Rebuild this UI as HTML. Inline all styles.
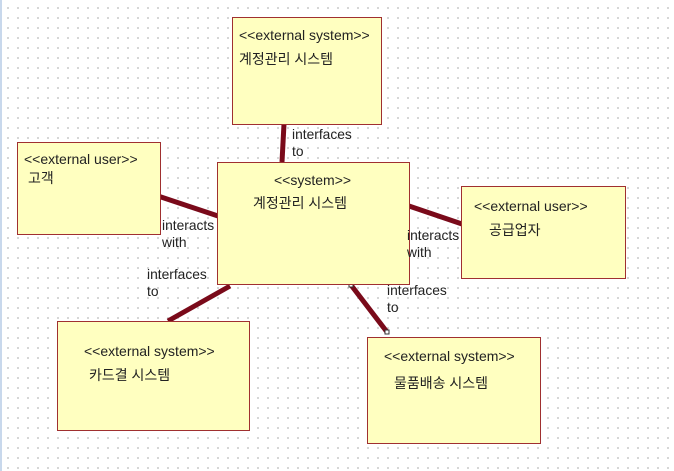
<!DOCTYPE html>
<html><head><meta charset="utf-8"><style>
body{margin:0;width:674px;height:471px;overflow:hidden;background:#fff;
background-image:radial-gradient(circle,#c8c8c8 0.8px,transparent 1px);background-size:10px 10px;background-position:3px 3px;
font-family:"Liberation Sans","Noto Sans CJK KR","NanumGothic",sans-serif;font-size:14px;color:#222;position:relative}
.b{position:absolute;background:#ffffc0;border:1.5px solid #a03030;box-sizing:border-box}
.t{position:absolute;white-space:nowrap;line-height:16px}
.l{position:absolute;font-size:13.8px;line-height:17px;color:#222;white-space:nowrap}
</style></head><body>
<div style="position:absolute;left:0;top:0;width:2px;height:471px;background:#c8d8ec"></div>
<svg width="674" height="471" style="position:absolute;left:0;top:0">
<g stroke="#7a0a1a" stroke-width="5" stroke-linecap="butt">
<line x1="284" y1="124" x2="282" y2="162"/>
<line x1="158" y1="196" x2="221" y2="217"/>
<line x1="409" y1="206" x2="462" y2="224"/>
<line x1="230" y1="286" x2="168" y2="321"/>
<line x1="351" y1="285" x2="387" y2="332"/>
</g>
<rect x="349" y="283" width="4" height="4" fill="#fff" stroke="#333" stroke-width="1"/>
<rect x="385" y="330" width="4" height="4" fill="#fff" stroke="#333" stroke-width="1"/>
</svg>
<div class="b" style="left:232px;top:17px;width:150px;height:108px"></div>
<div class="t" style="left:239px;top:27px">&lt;&lt;external system&gt;&gt;</div>
<div class="t" style="left:239px;top:51px">계정관리 시스템</div>
<div class="b" style="left:17px;top:142px;width:144px;height:93px"></div>
<div class="t" style="left:24px;top:151px">&lt;&lt;external user&gt;&gt;</div>
<div class="t" style="left:28px;top:170px">고객</div>
<div class="b" style="left:217px;top:162px;width:193px;height:123px"></div>
<div class="t" style="left:274px;top:172px">&lt;&lt;system&gt;&gt;</div>
<div class="t" style="left:253px;top:195px">계정관리 시스템</div>
<div class="b" style="left:461px;top:186px;width:165px;height:93px"></div>
<div class="t" style="left:474px;top:198px">&lt;&lt;external user&gt;&gt;</div>
<div class="t" style="left:489px;top:222px">공급업자</div>
<div class="b" style="left:57px;top:321px;width:193px;height:110px"></div>
<div class="t" style="left:84px;top:343px">&lt;&lt;external system&gt;&gt;</div>
<div class="t" style="left:89px;top:367px">카드결 시스템</div>
<div class="b" style="left:367px;top:337px;width:174px;height:107px"></div>
<div class="t" style="left:384px;top:348px">&lt;&lt;external system&gt;&gt;</div>
<div class="t" style="left:394px;top:375px">물품배송 시스템</div>
<div class="l" style="left:292px;top:126px">interfaces<br>to</div>
<div class="l" style="left:162px;top:217px">interacts<br>with</div>
<div class="l" style="left:407px;top:227px">interacts<br>with</div>
<div class="l" style="left:147px;top:266px">interfaces<br>to</div>
<div class="l" style="left:387px;top:282px">interfaces<br>to</div>
</body></html>
